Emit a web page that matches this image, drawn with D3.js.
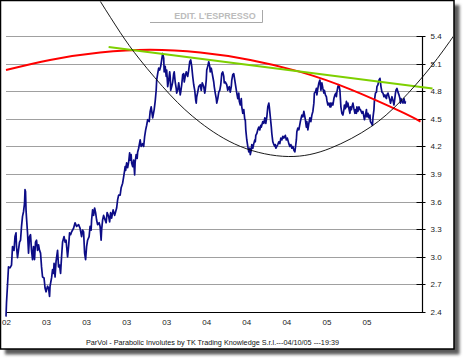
<!DOCTYPE html>
<html><head><meta charset="utf-8">
<script src="https://cdn.jsdelivr.net/npm/d3@7"></script>
<style>body{margin:0;background:#fff}svg{display:block}</style>
</head><body>
<svg id="c" width="463" height="359"></svg>
<script>
// ---- data ----
const yTicks = [2.4, 2.7, 3.0, 3.3, 3.6, 3.9, 4.2, 4.5, 4.8, 5.1, 5.4];
const xTickDays = [0, 80, 160, 240, 320, 400, 480, 560, 640, 720];
const xTickLabels = ["02","03","03","03","03","04","04","04","05","05"];
// [trading day index, price]
const priceSeries = [[0,2.35],[1,2.50],[3,2.69],[5,2.89],[8,2.88],[11,2.91],[13,3.11],[16,3.07],[18,3.22],[20,3.26],[21,3.11],[23,2.99],[27,3.16],[29,3.18],[31,3.33],[33,3.44],[35,3.49],[37,3.58],[38,3.73],[39,3.71],[40,3.51],[41,3.42],[43,3.26],[45,3.04],[47,3.22],[49,3.24],[51,3.07],[53,2.97],[55,3.11],[57,2.97],[59,3.16],[61,3.18],[63,3.07],[65,3.13],[67,3.07],[69,3.04],[71,2.89],[73,2.78],[76,2.77],[78,2.66],[80,2.62],[83,2.68],[85,2.66],[87,2.57],[88,2.68],[91,2.77],[93,2.86],[95,2.82],[96,2.93],[98,2.78],[100,2.95],[103,3.07],[105,2.89],[107,2.91],[109,2.82],[111,3.00],[113,3.16],[116,3.22],[118,3.16],[120,3.18],[123,3.00],[125,3.11],[127,3.26],[129,3.24],[131,3.27],[135,3.31],[138,3.37],[141,3.33],[145,3.35],[148,3.31],
[151,3.22],[153,3.29],[155,3.27],[157,3.04],[159,2.97],[161,3.11],[163,3.18],[166,3.22],[168,3.33],[170,3.29],[171,3.40],[173,3.51],[175,3.45],[177,3.53],[179,3.48],[181,3.40],[183,3.35],[186,3.37],[188,3.33],[190,3.18],[191,3.29],[193,3.40],[195,3.45],[198,3.40],[200,3.37],[202,3.48],[205,3.44],[207,3.38],[209,3.48],[211,3.42],[214,3.51],[217,3.45],[219,3.49],[221,3.53],[223,3.62],[225,3.67],[228,3.67],[230,3.75],[233,3.80],[235,3.87],[237,3.94],[238,3.98],[239,3.94],[241,4.02],[243,3.97],[245,4.03],[247,4.13],[248,4.05],[250,4.11],[251,4.02],[253,3.98],[255,4.05],[257,3.89],[258,4.03],[260,4.11],[262,4.07],[263,4.14],[265,4.18],[268,4.27],[270,4.20],[273,4.23],[275,4.20],[277,4.31],[279,4.38],[281,4.43],[283,4.49],[286,4.47],[288,4.58],[290,4.63],
[293,4.51],[296,4.60],[298,4.69],[300,4.81],[301,4.92],[303,4.99],[305,5.05],[307,5.03],[309,5.07],[311,5.14],[313,5.21],[315,5.16],[316,5.01],[318,5.07],[320,4.96],[321,5.03],[323,4.85],[325,4.92],[327,5.01],[328,4.96],[329,4.81],[331,4.85],[333,4.90],[335,4.99],[336,5.01],[338,4.90],[340,4.83],[341,4.78],[343,4.81],[345,4.89],[347,4.81],[348,4.76],[349,4.79],[351,4.87],[353,4.98],[355,4.99],[356,4.90],[358,4.96],[360,5.01],[363,4.96],[365,5.03],[367,5.12],[369,5.14],[371,5.07],[373,4.96],[375,4.87],[377,4.81],[379,4.70],[380,4.67],[381,4.74],[383,4.79],[385,4.85],[388,4.87],[390,4.81],[392,4.89],[395,4.85],[397,4.78],[398,4.81],[400,4.92],[401,5.03],[403,5.07],[405,5.12],[407,5.07],[408,5.01],[410,5.05],[412,4.99],[413,4.96],[415,4.90],[416,4.85],[418,4.78],[420,4.72],[421,4.67],[423,4.72],[425,4.79],[427,4.81],[429,4.87],[431,4.99],[433,5.01],[435,4.96],[436,4.89],
[438,4.90],[441,4.87],[443,4.81],[446,4.85],[448,4.79],[450,4.85],[451,4.92],[453,4.98],[455,4.99],[457,4.92],[459,4.85],[461,4.78],[463,4.72],[465,4.78],[466,4.69],[468,4.65],[470,4.72],[471,4.63],[473,4.56],[475,4.60],[477,4.49],[478,4.49],[479,4.38],[481,4.27],[483,4.20],[485,4.14],[487,4.18],[488,4.11],[490,4.16],[491,4.22],[493,4.18],[495,4.23],[497,4.27],[498,4.25],[499,4.32],[501,4.34],[503,4.38],[505,4.41],[507,4.38],[509,4.43],[510,4.41],[513,4.47],[515,4.45],[517,4.51],[518,4.47],[519,4.45],[521,4.52],[523,4.63],[525,4.67],[526,4.63],[528,4.52],[530,4.41],[531,4.34],[533,4.25],[535,4.22],[537,4.20],[538,4.22],[539,4.18],[541,4.20],[543,4.22],[545,4.25],[547,4.23],[549,4.29],[551,4.27],[553,4.31],[555,4.29],[558,4.32],[560,4.27],[562,4.29],[565,4.23],[567,4.20],[569,4.22],[571,4.18],[573,4.20],[575,4.16],[577,4.14],[578,4.18],[580,4.27],[581,4.36],[583,4.40],[585,4.38],[586,4.41],
[588,4.47],[591,4.54],[593,4.52],[595,4.58],[598,4.49],[600,4.41],[601,4.47],[603,4.38],[605,4.45],[607,4.51],[609,4.47],[611,4.54],[613,4.58],[615,4.67],[616,4.78],[618,4.79],[620,4.83],[621,4.76],[623,4.83],[625,4.89],[627,4.92],[628,4.87],[629,4.81],[631,4.89],[633,4.83],[635,4.78],[636,4.81],[638,4.76],[640,4.74],[641,4.70],[643,4.65],[645,4.67],[647,4.63],[648,4.67],[649,4.63],[651,4.67],[653,4.65],[655,4.72],[657,4.76],[659,4.78],[660,4.74],[661,4.79],[663,4.85],[665,4.87],[667,4.81],[668,4.72],[669,4.63],[671,4.56],[673,4.54],[675,4.60],[676,4.65],[678,4.61],[680,4.69],[681,4.63],[683,4.67],[685,4.61],[687,4.56],[688,4.63],[690,4.60],[691,4.63],[693,4.67],[695,4.61],[697,4.56],[698,4.60],[700,4.56],[701,4.63],[703,4.58],[705,4.63],[707,4.60],
[708,4.60],[711,4.56],[713,4.58],[716,4.49],[718,4.54],[720,4.60],[721,4.52],[723,4.56],[725,4.51],[727,4.54],[728,4.47],[730,4.45],[732,4.43],[733,4.51],[735,4.60],[736,4.70],[738,4.78],[740,4.79],[741,4.85],[743,4.87],[745,4.92],[747,4.94],[748,4.90],[749,4.85],[751,4.79],[753,4.78],[755,4.74],[757,4.76],[758,4.74],[760,4.72],[761,4.76],[763,4.78],[765,4.74],[767,4.70],[768,4.67],[769,4.69],[771,4.74],[773,4.70],[775,4.65],[776,4.69],[778,4.78],[779,4.81],[781,4.83],[783,4.79],[785,4.76],[787,4.72],[788,4.67],[789,4.72],[791,4.69],[793,4.67],[795,4.72],[797,4.67],[798,4.69]];
// red parabolic arc (sampled)
const redArc = [[0,5.03],[88,5.14],[188,5.22],[288,5.25],[388,5.22],[488,5.14],[588,5.01],[688,4.82],[788,4.58],[828,4.47]];
// green resistance line
const greenLine = [[205,5.28],[852,4.83]];
// black parabola (sampled)
const blackParabola = [[188,5.78],[228,5.44],[268,5.14],[328,4.76],[388,4.46],[468,4.20],[564,4.09],[648,4.18],[728,4.41],[788,4.69],[848,5.06],[898,5.43]];
const titleText = "EDIT. L'ESPRESSO";
const footerText = "ParVol - Parabolic Involutes by TK Trading Knowledge S.r.l.---04/10/05 ---19:39";

// ---- layout ----
const svg = d3.select("#c");
const frame = {x0: 0.5, y0: 0.5, x1: 454, y1: 349};
const plot = {left: 6, right: 422.5, top: 36, bottom: 312};

const x = d3.scaleLinear().domain([0, 832]).range([plot.left, plot.right]);
const y = d3.scaleLinear().domain([2.4, 5.4]).range([plot.bottom, plot.top]);

const defs = svg.append("defs");
const f = defs.append("filter").attr("id","sh").attr("x","-5%").attr("y","-5%").attr("width","115%").attr("height","115%");
f.append("feGaussianBlur").attr("stdDeviation", 1.8);
defs.append("clipPath").attr("id","fc").append("rect")
  .attr("x", frame.x0+1).attr("y", frame.y0+1)
  .attr("width", frame.x1-frame.x0-2).attr("height", frame.y1-frame.y0-2);

// shadow
svg.append("rect").attr("x", 5).attr("y", 5)
  .attr("width", frame.x1-frame.x0+1).attr("height", frame.y1-frame.y0+1)
  .attr("fill", "#5a5a5a").attr("filter","url(#sh)");
svg.append("rect").attr("x", frame.x0).attr("y", frame.y0)
  .attr("width", frame.x1-frame.x0).attr("height", frame.y1-frame.y0)
  .attr("fill", "#fff");

const g = svg.append("g").attr("clip-path","url(#fc)");

// title box
const tb = g.append("g");
tb.append("path").attr("d", "M150,22.5H262.5V10").attr("fill","none").attr("stroke","#a8a8a8").attr("stroke-width",1);
tb.append("text").attr("x", 215).attr("y", 19).attr("text-anchor","middle")
  .attr("font-family","Liberation Sans, Arial, sans-serif").attr("font-size", 9).attr("font-weight","bold")
  .attr("fill","#bcbcbc").text(titleText);

// gridlines
g.append("g").selectAll("line").data(yTicks.filter(d => d > 2.4)).join("line")
  .attr("x1", plot.left).attr("x2", plot.right)
  .attr("y1", d => Math.round(y(d)) + 0.5).attr("y2", d => Math.round(y(d)) + 0.5)
  .attr("stroke", "#a0a0a0").attr("stroke-width", 1);

// y axis (right)
const ya = g.append("g").attr("transform", `translate(${plot.right},0)`)
  .call(d3.axisRight(y).tickValues(yTicks).tickFormat(d3.format(".1f")).tickSize(3).tickPadding(5));
ya.select(".domain").remove();
ya.selectAll(".tick line").attr("x1", -6).attr("stroke","#000");
ya.selectAll(".tick text").attr("font-family","Liberation Sans, Arial, sans-serif").attr("font-size", 8).attr("fill","#222");
ya.selectAll(".tick").attr("transform", d => `translate(0,${Math.round(y(d))+0.5})`);
g.append("line").attr("x1", plot.right).attr("x2", plot.right).attr("y1", plot.top).attr("y2", plot.bottom+0.5)
  .attr("stroke","#000").attr("stroke-width",1.2);
// bottom axis line
g.append("line").attr("x1", plot.left).attr("x2", plot.right).attr("y1", plot.bottom+0.5).attr("y2", plot.bottom+0.5)
  .attr("stroke","#000").attr("stroke-width",1);

// x labels
const xa = g.append("g").attr("transform", `translate(0,${plot.bottom+0.5})`)
  .call(d3.axisBottom(x).tickValues(xTickDays).tickFormat((d,i) => xTickLabels[i]).tickSize(0).tickPadding(7));
xa.select(".domain").remove();
xa.selectAll(".tick text").attr("font-family","Liberation Sans, Arial, sans-serif").attr("font-size", 8).attr("fill","#222");

// series
const line = d3.line().x(d => x(d[0])).y(d => y(d[1]));
g.append("path").datum(priceSeries).attr("d", line)
  .attr("fill","none").attr("stroke","#0c0c86").attr("stroke-width",1.7).attr("stroke-linejoin","round");

const smooth = d3.line().x(d => x(d[0])).y(d => y(d[1])).curve(d3.curveNatural);
g.append("path").datum(redArc).attr("d", smooth)
  .attr("fill","none").attr("stroke","#ff0000").attr("stroke-width",2);
g.append("path").datum(greenLine).attr("d", line)
  .attr("fill","none").attr("stroke","#7ed000").attr("stroke-width",2);
g.append("path").datum(blackParabola).attr("d", smooth)
  .attr("fill","none").attr("stroke","#000").attr("stroke-width",0.9);

// footer
g.append("text").attr("x", 86).attr("y", 345)
  .attr("textLength", 253).attr("lengthAdjust", "spacingAndGlyphs")
  .attr("font-family","Liberation Sans, Arial, sans-serif").attr("font-size", 7.2).attr("fill","#111")
  .text(footerText);

// frame border
svg.append("rect").attr("x", frame.x0).attr("y", frame.y0)
  .attr("width", frame.x1-frame.x0).attr("height", frame.y1-frame.y0)
  .attr("fill", "none").attr("stroke","#000").attr("stroke-width",1.5);
</script>
</body></html>
